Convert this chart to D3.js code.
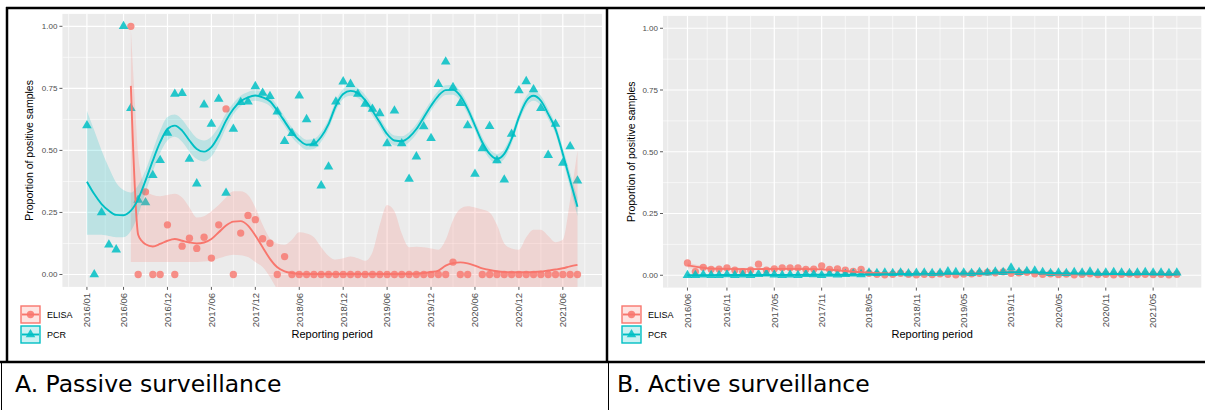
<!DOCTYPE html>
<html>
<head>
<meta charset="utf-8">
<script src="https://cdn.jsdelivr.net/npm/d3@7/dist/d3.min.js"></script>
<style>
  html, body { margin: 0; padding: 0; background: #fff; }
  svg { display: block; }
</style>
</head>
<body>
<div class="graphics"></div>
<script>
// ---- data ----
// months are "YYYY/MM" labels, one value per month

// A. passive surveillance
var startA = "2016/01", endA = "2021/08";
var pcrA = [0.60, 0.00, 0.25, 0.12, 0.10, 1.00, 0.67, 0.30, 0.29, 0.40,
            0.46, 0.57, 0.727, 0.73, 0.465, 0.366, 0.684, 0.606, 0.707, 0.328,
            0.586, 0.694, 0.696, 0.758, 0.731, 0.718, 0.656, 0.537, 0.569, 0.72,
            0.625, 0.528, 0.358, 0.434, 0.696, 0.777, 0.767, 0.727, 0.687, 0.667,
            0.649, 0.528, 0.66, 0.528, 0.385, 0.475, 0.596, 0.549, 0.767, 0.857,
            0.754, 0.69, 0.60, 0.405, 0.508, 0.597, 0.459, 0.382, 0.566, 0.741,
            0.778, 0.745, 0.67, 0.481, 0.606, 0.449, 0.516, 0.378];
var elisaA = [null, null, null, null, null, null, 1.00, 0, 0.333, 0,
              0, 0.20, 0, 0.114, 0.146, 0.105, 0.15, 0.066, 0.20, 0.667,
              0, 0.167, 0.238, 0.221, 0.144, 0.126, 0, 0.072, 0, 0,
              0, 0, 0, 0, 0, 0, 0, 0, 0, 0,
              0, 0, 0, 0, 0, 0, 0, 0, 0, 0,
              0.05, 0, 0, null, 0, 0, 0, 0, 0, 0,
              0, 0, 0, 0, 0, 0, 0, 0];
// smoothed trend + confidence band, month index from 2016/01
var pcrFitA = [0.374, 0.324, 0.284, 0.257, 0.240, 0.239, 0.257, 0.304, 0.378, 0.459,
               0.533, 0.586, 0.600, 0.580, 0.540, 0.506, 0.495, 0.513, 0.559, 0.620,
               0.667, 0.698, 0.714, 0.721, 0.714, 0.698, 0.660, 0.617, 0.573, 0.542,
               0.523, 0.526, 0.555, 0.606, 0.680, 0.727, 0.740, 0.731, 0.703, 0.660,
               0.613, 0.566, 0.540, 0.537, 0.553, 0.586, 0.633, 0.680, 0.720, 0.743,
               0.744, 0.720, 0.667, 0.600, 0.533, 0.486, 0.466, 0.486, 0.546, 0.633,
               0.698, 0.720, 0.700, 0.647, 0.586, 0.486, 0.379, 0.273];
var pcrHiA = [0.66, 0.58, 0.50, 0.43, 0.37, 0.34, 0.33, 0.36, 0.42, 0.50,
              0.58, 0.635, 0.645, 0.625, 0.585, 0.55, 0.54, 0.555, 0.595, 0.65,
              0.69, 0.72, 0.735, 0.742, 0.735, 0.718, 0.68, 0.637, 0.593, 0.562,
              0.543, 0.546, 0.575, 0.626, 0.70, 0.747, 0.76, 0.751, 0.723, 0.68,
              0.633, 0.586, 0.56, 0.557, 0.573, 0.606, 0.653, 0.70, 0.74, 0.763,
              0.764, 0.74, 0.687, 0.62, 0.553, 0.506, 0.486, 0.506, 0.566, 0.653,
              0.718, 0.74, 0.72, 0.667, 0.606, 0.511, 0.41, 0.31];
var pcrLoA = [0.16, 0.16, 0.16, 0.155, 0.15, 0.15, 0.175, 0.24, 0.33, 0.415,
              0.49, 0.54, 0.555, 0.535, 0.495, 0.465, 0.455, 0.475, 0.525, 0.59,
              0.645, 0.678, 0.694, 0.70, 0.694, 0.678, 0.64, 0.597, 0.553, 0.522,
              0.503, 0.506, 0.535, 0.586, 0.66, 0.707, 0.72, 0.711, 0.683, 0.64,
              0.593, 0.546, 0.52, 0.517, 0.533, 0.566, 0.613, 0.66, 0.70, 0.723,
              0.724, 0.70, 0.647, 0.58, 0.513, 0.466, 0.446, 0.466, 0.526, 0.613,
              0.678, 0.70, 0.68, 0.627, 0.566, 0.461, 0.348, 0.236];
var elisaFitMA = [6, 7, 7.5, 8, 9, 10, 11, 12, 13, 14, 15, 16, 17, 18, 19, 20, 21, 22, 23, 24,
                  25, 26, 27, 28, 29, 30, 35, 40, 45, 46, 47, 48, 49, 50, 51, 52, 53, 54, 55, 56,
                  57, 58, 59, 60, 61, 62, 63, 64, 65, 66, 67];
var elisaFitA = [0.76, 0.16, 0.135, 0.122, 0.113, 0.123, 0.136, 0.143, 0.136, 0.129, 0.125, 0.129, 0.143, 0.170, 0.197, 0.213, 0.215, 0.197, 0.157, 0.110,
                 0.063, 0.029, 0.013, 0.006, 0.003, 0.002, 0.002, 0.002, 0.003, 0.006, 0.010, 0.016, 0.036, 0.046, 0.049, 0.045, 0.036, 0.025, 0.018, 0.013,
                 0.010, 0.009, 0.009, 0.009, 0.010, 0.012, 0.016, 0.020, 0.025, 0.033, 0.039];
var elisaBandMA = [6, 6.5, 7, 7.5, 8, 9, 10, 11, 12, 13, 14, 15, 16, 17, 18, 19, 20, 21, 22, 23,
                   24, 25, 26, 27, 28, 29, 30, 31, 32, 33, 34, 35, 36, 37, 38, 39, 40, 41, 42, 43,
                   44, 45, 46, 47, 48, 49, 50, 51, 52, 53, 54, 55, 56, 57, 58, 59, 60, 61, 62, 63,
                   64, 65, 66, 67];
var elisaHiA = [0.99, 0.72, 0.48, 0.39, 0.34, 0.32, 0.315, 0.32, 0.325, 0.31, 0.27, 0.23, 0.235, 0.255, 0.28, 0.31, 0.335, 0.335, 0.32, 0.27,
                0.20, 0.145, 0.125, 0.12, 0.14, 0.17, 0.165, 0.15, 0.11, 0.075, 0.06, 0.065, 0.072, 0.065, 0.055, 0.09, 0.20, 0.28, 0.255, 0.165,
                0.11, 0.112, 0.11, 0.105, 0.10, 0.14, 0.22, 0.265, 0.275, 0.27, 0.262, 0.25, 0.20, 0.125, 0.105, 0.10, 0.15, 0.18, 0.18, 0.155,
                0.13, 0.14, 0.30, 0.50];
var elisaLoA = [0.05, 0.05, 0.05, 0.05, 0.05, 0.05, 0.05, 0.05, 0.05, 0.05, 0.05, 0.05, 0.052, 0.055, 0.065, 0.075, 0.08, 0.078, 0.07, 0.05,
                0.03, -0.01, -0.06, -0.1, -0.1, -0.1, -0.1, -0.1, -0.1, -0.1, -0.1, -0.1, -0.1, -0.1, -0.1, -0.1, -0.1, -0.1, -0.1, -0.1,
                -0.1, -0.1, -0.1, -0.1, -0.1, -0.1, -0.1, -0.1, -0.1, -0.1, -0.1, -0.1, -0.1, -0.1, -0.1, -0.1, -0.1, -0.1, -0.1, -0.1,
                -0.1, -0.1, -0.1, -0.1];
var ticksA = ["2016/01", "2016/06", "2016/12", "2017/06", "2017/12", "2018/06",
              "2018/12", "2019/06", "2019/12", "2020/06", "2020/12", "2021/06"];

// B. active surveillance
var startB = "2016/06", endB = "2021/08";
var elisaB = [0.050, 0.015, 0.032, 0.024, 0.025, 0.030, 0.021, 0.015, 0.021, 0.045,
              0.021, 0.026, 0.030, 0.030, 0.030, 0.024, 0.025, 0.038, 0.024, 0.026,
              0.021, 0.016, 0.024, 0.008, 0.004, 0.002, 0.004, 0.008, 0.004, 0.002,
              0.004, 0.003, 0.006, 0.004, 0.002, 0.005, 0.006, 0.008, 0.012, 0.010,
              0.014, 0.008, 0.010, 0.012, 0.006, 0.004, 0.006, 0.003, 0.005, 0.002,
              0.004, 0.006, 0.003, 0.004, 0.002, 0.004, 0.005, 0.003, 0.004, 0.003,
              0.004, 0.002, 0.004];
var pcrB = [0.000, 0.000, 0.002, 0.000, 0.000, 0.003, 0.000, 0.002, 0.000, 0.004,
            0.006, 0.002, 0.000, 0.002, 0.000, 0.004, 0.003, 0.000, 0.005, 0.002,
            0.004, 0.006, 0.003, 0.010, 0.008, 0.010, 0.008, 0.010, 0.007, 0.009,
            0.010, 0.008, 0.009, 0.015, 0.012, 0.010, 0.008, 0.012, 0.010, 0.014,
            0.012, 0.030, 0.012, 0.016, 0.018, 0.012, 0.008, 0.010, 0.008, 0.012,
            0.010, 0.014, 0.008, 0.010, 0.012, 0.010, 0.008, 0.010, 0.012, 0.010,
            0.010, 0.008, 0.010];
// trend month index counted from 2016/06
var fitMB = [0, 2, 4, 8, 12, 16, 18, 20, 22, 24, 28, 34, 38, 41, 44, 48, 55, 62];
var elisaFitB = [0.040, 0.030, 0.026, 0.025, 0.026, 0.025, 0.022, 0.017, 0.012, 0.008, 0.005, 0.005, 0.008, 0.011, 0.009, 0.005, 0.004, 0.004];
var elisaHiB = [0.052, 0.037, 0.031, 0.029, 0.030, 0.029, 0.026, 0.021, 0.016, 0.012, 0.009, 0.009, 0.012, 0.015, 0.013, 0.009, 0.008, 0.009];
var elisaLoB = [0.028, 0.023, 0.021, 0.021, 0.022, 0.021, 0.018, 0.013, 0.008, 0.004, 0.001, 0.001, 0.004, 0.007, 0.005, 0.001, 0.000, -0.001];
var pcrFitB = [0.000, 0.000, 0.001, 0.001, 0.001, 0.002, 0.002, 0.002, 0.003, 0.004, 0.005, 0.006, 0.008, 0.012, 0.011, 0.007, 0.005, 0.004];
var pcrHiB = [0.004, 0.003, 0.003, 0.003, 0.003, 0.004, 0.004, 0.004, 0.005, 0.006, 0.007, 0.008, 0.011, 0.016, 0.014, 0.010, 0.008, 0.008];
var pcrLoB = [-0.004, -0.003, -0.002, -0.001, -0.001, 0.000, 0.000, 0.000, 0.001, 0.002, 0.003, 0.004, 0.005, 0.008, 0.008, 0.004, 0.002, 0.000];
var ticksB = ["2016/06", "2016/11", "2017/05", "2017/11", "2018/05", "2018/11",
              "2019/05", "2019/11", "2020/05", "2020/11", "2021/05"];

var yTicks = [0, 0.25, 0.5, 0.75, 1];
var series = ["ELISA", "PCR"];
var colors = {ELISA: "#F8766D", PCR: "#00BFC4"};
var captions = ["A. Passive surveillance", "B. Active surveillance"];

// ---- helpers ----
// "2016/06" -> number of months since 2016/01
function monthIndex(label){
    var p = label.split("/");
    return (+p[0] - 2016) * 12 + (+p[1] - 1);
}

var W = 1205, H = 410;
var svg = d3.select(".graphics").append("svg")
    .attr("width", W).attr("height", H)
    .style("font-family", "'Liberation Sans', Arial, sans-serif");

svg.append("rect").attr("width", W).attr("height", H).attr("fill", "#fff");

function panel(o){
    var m0 = monthIndex(o.start), m1 = monthIndex(o.end);
    var pad = (m1 - m0) * 0.05;
    var x = d3.scaleLinear().domain([m0 - pad, m1 + pad]).range([o.left, o.right]);
    var y = d3.scaleLinear().domain([-0.05, 1.05]).range([o.bottom, o.top]);

    var g = svg.append("g");
    var clipId = "clip" + o.id;
    svg.append("clipPath").attr("id", clipId).append("rect")
        .attr("x", o.left).attr("y", o.top)
        .attr("width", o.right - o.left).attr("height", o.bottom - o.top);

    g.append("rect")
        .attr("x", o.left).attr("y", o.top)
        .attr("width", o.right - o.left).attr("height", o.bottom - o.top)
        .attr("fill", "#EBEBEB");

    // grid: minor halfway between majors
    var tickM = o.ticks.map(monthIndex);
    var minor = [];
    for (var i = 0; i < tickM.length - 1; i++) minor.push((tickM[i] + tickM[i + 1]) / 2);
    minor.unshift(tickM[0] - (tickM[1] - tickM[0]) / 2);
    minor.push(tickM[tickM.length - 1] + (tickM[tickM.length - 1] - tickM[tickM.length - 2]) / 2);
    var yMinor = [0.125, 0.375, 0.625, 0.875];

    var grid = g.append("g").attr("clip-path", "url(#" + clipId + ")");
    grid.selectAll(".vmin").data(minor).enter().append("line")
        .attr("x1", d => x(d)).attr("x2", d => x(d))
        .attr("y1", o.top).attr("y2", o.bottom)
        .attr("stroke", "#fff").attr("stroke-width", 0.6);
    grid.selectAll(".hmin").data(yMinor).enter().append("line")
        .attr("x1", o.left).attr("x2", o.right)
        .attr("y1", d => y(d)).attr("y2", d => y(d))
        .attr("stroke", "#fff").attr("stroke-width", 0.6);
    grid.selectAll(".vmaj").data(tickM).enter().append("line")
        .attr("x1", d => x(d)).attr("x2", d => x(d))
        .attr("y1", o.top).attr("y2", o.bottom)
        .attr("stroke", "#fff").attr("stroke-width", 1.2);
    grid.selectAll(".hmaj").data(yTicks).enter().append("line")
        .attr("x1", o.left).attr("x2", o.right)
        .attr("y1", d => y(d)).attr("y2", d => y(d))
        .attr("stroke", "#fff").attr("stroke-width", 1.2);

    // points
    var plot = g.append("g").attr("clip-path", "url(#" + clipId + ")");
    o.points.forEach(function(s){
        var pts = s.values.map(function(v, i){ return {m: m0 + i, v: v}; })
                          .filter(d => d.v !== null);
        var sym = d3.symbol().type(s.name === "PCR" ? d3.symbolTriangle : d3.symbolCircle)
                    .size(s.name === "PCR" ? 40 : 42);
        plot.selectAll(null).data(pts).enter().append("path")
            .attr("d", sym)
            .attr("transform", d => "translate(" + x(d.m) + "," + y(d.v) + ")")
            .attr("fill", colors[s.name])
            .attr("fill-opacity", s.name === "PCR" ? 0.85 : 0.8);
    });

    // smooth trends with bands
    o.trends.forEach(function(t){
        var rows = t.m.map(function(m, i){ return {m: m, lo: t.lo[i], hi: t.hi[i]}; });
        plot.append("path").datum(rows)
            .attr("d", d3.area().x(d => x(d.m)).y0(d => y(d.lo)).y1(d => y(d.hi))
                         .curve(d3.curveMonotoneX))
            .attr("fill", colors[t.name]).attr("fill-opacity", 0.2);
    });
    o.trends.forEach(function(t){
        var rows = t.fm.map(function(m, i){ return {m: m, v: t.fit[i]}; });
        plot.append("path").datum(rows)
            .attr("d", d3.line().x(d => x(d.m)).y(d => y(d.v)).curve(d3.curveMonotoneX))
            .attr("fill", "none").attr("stroke", colors[t.name]).attr("stroke-width", 1.9);
    });

    // y axis
    var ya = g.append("g");
    ya.selectAll("line").data(yTicks).enter().append("line")
        .attr("x1", o.left - 3).attr("x2", o.left)
        .attr("y1", d => y(d)).attr("y2", d => y(d))
        .attr("stroke", "#333").attr("stroke-width", 0.8);
    ya.selectAll("text").data(yTicks).enter().append("text")
        .attr("x", o.left - 5).attr("y", d => y(d)).attr("dy", "0.35em")
        .attr("text-anchor", "end").attr("font-size", 8).attr("fill", "#4D4D4D")
        .text(d => d3.format(".2f")(d));

    // x axis
    var xa = g.append("g");
    xa.selectAll("line").data(tickM).enter().append("line")
        .attr("x1", d => x(d)).attr("x2", d => x(d))
        .attr("y1", o.bottom).attr("y2", o.bottom + 3)
        .attr("stroke", "#333").attr("stroke-width", 0.8);
    xa.selectAll("text").data(o.ticks).enter().append("text")
        .attr("transform", d => "translate(" + x(monthIndex(d)) + "," + (o.bottom + 6) + ") rotate(-90)")
        .attr("dy", "0.35em").attr("text-anchor", "end")
        .attr("font-size", 9.5).attr("fill", "#4D4D4D")
        .text(d => d);

    // titles
    g.append("text")
        .attr("x", (o.left + o.right) / 2).attr("y", 338)
        .attr("text-anchor", "middle").attr("font-size", 11).attr("fill", "#000")
        .text("Reporting period");
    g.append("text")
        .attr("transform", "translate(" + o.yTitleX + "," + (o.top + o.bottom) / 2 + ") rotate(-90)")
        .attr("text-anchor", "middle").attr("font-size", 10.5).attr("fill", "#000")
        .text("Proportion of positive samples");

    // legend
    var lg = g.append("g");
    series.forEach(function(name, i){
        var ky = o.legendY + i * 20;
        var k = lg.append("g");
        k.append("rect").attr("x", o.legendX).attr("y", ky)
            .attr("width", 19).attr("height", 17)
            .attr("fill", colors[name]).attr("fill-opacity", 0.2)
            .attr("stroke", colors[name]).attr("stroke-width", 1.4);
        k.append("line").attr("x1", o.legendX + 1).attr("x2", o.legendX + 18)
            .attr("y1", ky + 8.5).attr("y2", ky + 8.5)
            .attr("stroke", colors[name]).attr("stroke-width", 1.9);
        k.append("path")
            .attr("d", d3.symbol().type(name === "PCR" ? d3.symbolTriangle : d3.symbolCircle)
                        .size(name === "PCR" ? 40 : 42))
            .attr("transform", "translate(" + (o.legendX + 9.5) + "," + (ky + 8.5) + ")")
            .attr("fill", colors[name]).attr("fill-opacity", 0.85);
        lg.append("text").attr("x", o.legendX + 26).attr("y", ky + 8.5).attr("dy", "0.35em")
            .attr("font-size", 9).attr("fill", "#000").text(name);
    });
}

panel({
    id: "A", start: startA, end: endA, ticks: ticksA,
    left: 62.4, right: 602, top: 13.9, bottom: 286.9,
    yTitleX: 33, legendX: 21, legendY: 306,
    points: [{name: "ELISA", values: elisaA}, {name: "PCR", values: pcrA}],
    trends: [
        {name: "ELISA", fm: elisaFitMA, fit: elisaFitA, m: elisaBandMA, lo: elisaLoA, hi: elisaHiA},
        {name: "PCR", fm: pcrFitA.map((d, i) => i), fit: pcrFitA, m: pcrFitA.map((d, i) => i), lo: pcrLoA, hi: pcrHiA}
    ]
});

var offB = monthIndex(startB);
panel({
    id: "B", start: startB, end: endB, ticks: ticksB,
    left: 663, right: 1201.3, top: 15.9, bottom: 287.6,
    yTitleX: 635, legendX: 622, legendY: 306,
    points: [{name: "ELISA", values: elisaB}, {name: "PCR", values: pcrB}],
    trends: [
        {name: "ELISA", fm: fitMB.map(d => d + offB), fit: elisaFitB, m: fitMB.map(d => d + offB), lo: elisaLoB, hi: elisaHiB},
        {name: "PCR", fm: fitMB.map(d => d + offB), fit: pcrFitB, m: fitMB.map(d => d + offB), lo: pcrLoB, hi: pcrHiB}
    ]
});

// ---- table frame and captions ----
var frame = svg.append("g").attr("stroke", "#000");
frame.append("line").attr("x1", 6).attr("x2", W).attr("y1", 8).attr("y2", 8).attr("stroke-width", 2.5);
frame.append("line").attr("x1", 7).attr("x2", 7).attr("y1", 7).attr("y2", 363).attr("stroke-width", 2.5);
frame.append("line").attr("x1", 607).attr("x2", 607).attr("y1", 7).attr("y2", 363).attr("stroke-width", 2.5);
frame.append("line").attr("x1", 0).attr("x2", W).attr("y1", 362).attr("y2", 362).attr("stroke-width", 2.5);
frame.append("line").attr("x1", 1.5).attr("x2", 1.5).attr("y1", 362).attr("y2", H).attr("stroke-width", 1);
frame.append("line").attr("x1", 608.5).attr("x2", 608.5).attr("y1", 362).attr("y2", H).attr("stroke-width", 1);

svg.selectAll(".cap").data(captions).enter().append("text")
    .attr("x", (d, i) => i === 0 ? 15 : 617).attr("y", 392)
    .attr("font-family", "'DejaVu Sans', Verdana, sans-serif")
    .attr("font-size", 23.5).attr("fill", "#000")
    .text(d => d);
</script>
</body>
</html>
